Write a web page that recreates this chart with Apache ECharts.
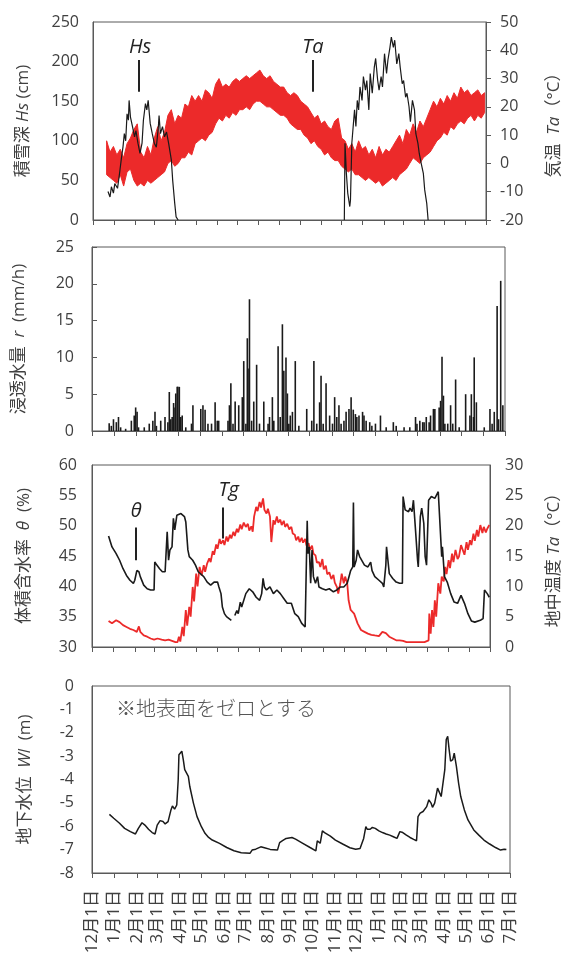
<!DOCTYPE html>
<html>
<head>
<meta charset="utf-8">
<script src="https://cdn.jsdelivr.net/npm/echarts@6/dist/echarts.min.js"></script>
<style>
  html, body { margin: 0; padding: 0; background: #fff; }
  #chart { width: 571px; height: 960px; }
</style>
</head>
<body>
<div id="chart"></div>
<script>
// x軸: 12月1日からの日数
const monthDays = [0, 31, 62, 90, 121, 151, 182, 212, 243, 274, 304, 335, 365, 396, 427, 455, 486, 516, 547, 577];
const monthLabels = ['12月1日', '1月1日', '2月1日', '3月1日', '4月1日', '5月1日', '6月1日', '7月1日', '8月1日', '9月1日',
  '10月1日', '11月1日', '12月1日', '1月1日', '2月1日', '3月1日', '4月1日', '5月1日', '6月1日', '7月1日'];

// 積雪深 Hs (cm) [日, 値]
const hsWinter1 = [[22,36],[25,29],[27,42],[30,34],[32,46],[36,40],[39,59],[42,80],[44,92],[46,109],[48,100],[50,134],[52,126],[53,151],[55,130],[58,118],[61,105],[63,113],[66,97],[69,84],[72,97],[74,126],[77,147],[79,139],[81,151],[84,122],[87,109],[90,97],[93,92],[96,118],[97,132],[99,109],[102,118],[105,105],[108,111],[111,97],[115,76],[117,50],[120,21],[122,4],[125,0]];
const hsWinter2 = [[369,0],[370,97],[372,59],[374,34],[377,17],[378,25],[380,97],[382,118],[384,139],[386,118],[388,151],[390,139],[392,168],[395,151],[397,181],[400,164],[402,176],[405,139],[407,185],[410,160],[413,193],[415,204],[418,176],[420,164],[423,181],[425,168],[428,210],[431,185],[433,202],[436,218],[438,231],[441,218],[443,227],[446,197],[449,210],[451,193],[454,172],[456,176],[459,155],[461,160],[464,143],[466,124],[469,151],[472,139],[474,109],[477,97],[479,84],[482,71],[485,59],[487,38],[490,21],[492,0]];

// 気温 Ta (°C) [日, 下限, 上限]
const taBand = [[20,-4,8],[25,-5,4],[30,-6,6],[35,-7,3],[40,-4,5],[45,-8,2],[50,-3,7],[55,-2,9],[60,-6,12],[65,-8,14],
  [70,-7,4],[75,-8,2],[80,-6,6],[85,-7,3],[90,-6,9],[95,-5,13],[100,-4,8],[105,-3,11],[110,0,17],[115,1,19],
  [120,-1,14],[125,0,17],[130,2,16],[135,2,21],[140,4,20],[145,3,24],[150,7,22],[155,8,24],[160,9,22],[165,8,26],
  [170,10,25],[175,11,23],[180,14,28],[185,16,30],[190,15,27],[195,17,28],[200,16,27],[205,18,29],[210,17,30],[215,19,29],
  [220,19,30],[225,20,31],[230,19,30],[235,21,31],[240,22,32],[245,22,33],[250,21,31],[255,20,30],[260,20,31],[265,19,29],
  [270,18,28],[275,17,27],[280,17,27],[285,16,25],[290,14,24],[295,13,25],[300,12,24],[305,12,22],[310,10,21],[315,9,20],
  [320,7,18],[325,8,16],[330,6,17],[335,5,14],[340,3,15],[345,4,13],[350,2,12],[355,1,15],[360,1,16],[365,-1,9],
  [370,-2,8],[375,-3,5],[380,-2,7],[385,-4,4],[390,-4,8],[395,-5,5],[400,-6,6],[405,-5,3],[410,-6,5],[415,-7,2],
  [420,-6,6],[425,-8,3],[430,-7,5],[435,-6,4],[440,-5,6],[445,-6,8],[450,-4,10],[455,-3,7],[460,-2,12],[465,0,10],
  [470,2,14],[475,1,11],[480,0,15],[485,2,13],[490,3,16],[495,4,19],[500,6,22],[505,8,20],[510,9,23],[515,11,21],
  [520,10,24],[525,13,22],[530,12,25],[535,14,23],[540,15,27],[545,14,25],[550,16,26],[555,17,24],[560,15,25],[565,17,26],
  [570,16,24],[575,18,25]];

// 浸透水量 r (mm/h) [日, 値]
const rain = [[24,1.05],[27,0.7],[30,1.6],[34,1.2],[37,1.9],[40,0.5],[47,0.3],[55,1.4],[59,2.1],[61,3.2],[63,2.6],[65,0.5],
  [73,0.5],[80,1.0],[85,1.4],[88,2.6],[90,0.7],[96,1.4],[102,1.9],[106,1.2],[108,5.3],[110,1.6],[112,1.9],[114,3.8],[116,3.2],
  [117,5.1],[119,6.0],[120,6.0],[122,6.0],[124,1.9],[126,2.1],[131,0.5],[139,1.0],[141,3.5],[152,3.0],[155,3.5],[158,2.9],
  [162,1.0],[167,1.0],[172,3.9],[175,1.4],[177,1.4],[190,1.4],[192,3.5],[194,6.5],[197,1.0],[200,4.0],[205,3.5],[210,4.6],
  [212,9.5],[215,1.0],[217,12.6],[218,8.5],[220,17.9],[223,1.4],[226,4.0],[230,9.0],[234,1.0],[240,4.0],[246,1.0],[248,1.9],
  [252,4.6],[254,1.4],[260,11.5],[263,1.9],[266,14.5],[268,8.2],[271,10.0],[273,5.1],[275,1.0],[277,2.1],[280,2.6],[284,9.5],
  [289,0.7],[300,3.0],[307,1.4],[310,9.5],[314,1.0],[318,3.9],[320,7.5],[323,1.0],[327,6.5],[332,2.1],[336,1.0],[339,4.6],
  [342,1.9],[345,3.5],[348,1.0],[352,1.4],[355,2.6],[359,3.0],[362,4.6],[365,2.9],[368,2.3],[370,1.9],[373,2.1],[378,2.6],
  [380,2.1],[383,1.4],[388,1.2],[391,0.7],[396,1.0],[403,2.1],[411,0.5],[421,1.2],[425,0.7],[436,0.5],[444,0.5],[452,1.9],
  [454,1.0],[458,1.4],[462,1.2],[464,1.2],[467,1.9],[471,1.2],[473,2.1],[477,3.0],[479,3.0],[485,3.2],[487,4.1],[489,10.1],
  [491,4.8],[493,1.0],[497,1.0],[501,3.5],[504,1.0],[508,7.0],[513,0.5],[522,5.0],[528,2.1],[530,5.0],[533,1.9],[534,10.0],
  [537,3.9],[548,0.5],[556,3.0],[559,1.0],[562,2.6],[566,17.0],[568,1.6],[571,20.4],[574,3.5]];

// 体積含水率 θ (%) [日, 値]
const theta = [[24,48.3],[29,46.5],[35,45.4],[40,44.3],[45,42.9],[50,41.8],[55,41.0],[60,40.5],[62,41.0],[65,42.6],[68,42.4],
  [70,41.6],[75,40.2],[80,39.6],[85,39.4],[90,39.4],[91,44.0],[94,43.5],[98,42.9],[102,42.4],[106,42.4],[108,42.6],[109,49.0],
  [111,44.3],[113,46.0],[116,46.5],[118,51.2],[120,49.3],[123,51.7],[129,52.0],[134,51.5],[136,50.6],[139,46.0],[141,44.9],
  [146,44.3],[150,43.5],[154,42.4],[156,42.1],[162,41.6],[167,40.7],[172,40.2],[177,40.7],[182,40.7],[184,39.9],[187,38.8],
  [189,36.6],[192,35.5],[195,35.0],[197,34.7],[202,34.4],[204,null],[207,35.2],[210,36.0],[212,35.5],[215,37.4],[217,36.6],
  [223,38.8],[228,39.6],[233,39.1],[238,38.2],[243,37.7],[246,38.8],[248,41.3],[250,39.9],[253,39.4],[258,39.9],[263,38.8],
  [268,39.4],[273,38.8],[278,38.0],[283,37.2],[289,37.2],[294,35.5],[299,35.0],[304,33.9],[309,33.3],[311,33.0],[312,50.8],
  [313,45.4],[315,46.5],[317,40.5],[319,46.0],[321,41.6],[324,40.5],[327,41.6],[329,39.9],[334,39.6],[339,39.4],[344,39.6],
  [350,39.1],[355,39.4],[360,39.9],[365,39.9],[370,40.5],[375,42.6],[378,43.2],[379,53.8],[380,43.2],[383,44.3],[385,46.0],
  [388,44.9],[390,44.9],[395,43.5],[400,43.2],[404,44.0],[406,42.6],[410,41.6],[416,41.0],[421,40.5],[423,39.9],[426,43.5],
  [427,46.5],[429,44.3],[431,42.1],[436,41.3],[441,40.7],[446,40.5],[450,40.5],[451,54.8],[454,52.6],[456,52.9],[459,52.3],
  [461,52.9],[464,52.3],[466,54.2],[469,49.3],[472,44.3],[473,43.2],[476,51.5],[478,52.9],[481,50.4],[483,44.9],[485,43.5],
  [488,54.2],[492,54.8],[497,54.5],[502,55.6],[504,55.9],[507,44.9],[508,46.5],[511,41.6],[515,40.7],[520,38.8],[525,37.4],
  [530,37.2],[535,38.5],[540,37.2],[545,35.5],[550,34.3],[555,34.1],[563,34.4],[567,34.7],[569,39.4],[573,38.8],[576,38.2]];

// 地中温度 Tg (°C) [日, 値]
const tg = [[24,4.3],[29,3.9],[35,4.4],[40,4.1],[45,3.6],[50,3.3],[55,3.0],[60,2.8],[65,2.5],[68,3.4],[70,2.5],[75,1.9],
  [80,1.7],[85,1.4],[90,1.2],[95,1.4],[101,1.2],[106,1.1],[111,1.2],[116,1.0],[121,0.8],[124,0.8],[126,1.7],[128,0.9],
  [131,3.3],[133,1.8],[136,6.1],[138,3.5],[141,6.6],[143,5.0],[146,9.9],[148,7.5],[151,12.1],[153,10.0],[156,13.2],
  [159,11.8],[162,13.5],[164,12.4],[167,13.8],[170,14.6],[172,14.0],[175,15.8],[177,15.2],[180,16.9],[182,16.2],[185,17.8],
  [187,17.0],[190,17.6],[192,16.8],[195,18.2],[197,17.4],[200,18.5],[202,17.9],[205,19.0],[207,18.3],[210,19.5],[212,18.9],
  [215,20.2],[217,19.4],[220,20.5],[223,19.8],[226,20.3],[228,19.2],[231,19.9],[233,19.0],[235,21.5],[238,23.1],[240,22.4],
  [243,23.9],[245,23.0],[248,24.5],[250,22.6],[253,22.0],[255,22.8],[258,21.5],[260,17.3],[263,20.9],[265,20.2],[268,21.5],
  [270,20.5],[273,21.0],[275,20.1],[278,20.8],[280,19.8],[283,20.3],[286,19.4],[289,19.8],[291,18.7],[294,18.5],[296,17.6],
  [299,18.2],[301,17.3],[304,18.0],[306,17.2],[309,17.8],[311,16.7],[314,17.1],[316,16.0],[319,16.7],[321,15.4],[324,15.1],
  [326,13.9],[329,14.0],[331,13.2],[334,14.5],[336,12.8],[339,13.4],[341,12.0],[344,12.3],[347,11.2],[350,11.9],[352,10.6],
  [355,9.9],[357,8.8],[360,10.5],[362,12.1],[365,10.5],[367,11.6],[370,10.5],[372,7.7],[375,6.1],[380,5.5],[385,3.9],
  [390,2.8],[395,2.5],[400,2.2],[405,2.0],[410,1.9],[416,1.8],[421,2.5],[426,2.3],[431,1.7],[436,1.4],[441,1.1],[446,1.1],
  [451,1.0],[456,0.8],[461,0.8],[466,0.8],[472,0.8],[477,0.8],[482,0.8],[488,1.1],[489,5.5],[491,2.2],[493,6.1],[495,3.3],
  [497,7.7],[499,5.0],[502,10.5],[505,8.8],[507,11.6],[510,10.8],[512,13.2],[514,12.0],[517,14.3],[519,13.0],[522,15.4],
  [524,14.0],[527,16.0],[530,14.5],[532,14.9],[535,16.8],[537,16.5],[540,15.2],[543,17.3],[545,16.0],[548,17.6],[550,16.8],
  [553,18.7],[555,17.5],[558,19.3],[560,18.2],[563,20.1],[566,18.8],[568,19.8],[571,18.9],[573,19.5],[576,20.1]];

// 地下水位 Wl (m) [日, 値]
const wl = [[24,-5.49],[30,-5.66],[38,-5.87],[45,-6.09],[53,-6.23],[60,-6.33],[64,-6.09],[69,-5.85],[73,-5.95],[78,-6.13],
  [83,-6.27],[87,-6.33],[90,-5.95],[94,-5.76],[98,-5.80],[101,-5.90],[105,-5.80],[109,-5.30],[111,-5.13],[114,-5.27],
  [117,-5.09],[119,-4.01],[120,-2.94],[122,-3.01],[124,-2.79],[126,-3.15],[128,-3.58],[130,-3.51],[133,-3.87],[135,-4.30],
  [140,-5.01],[145,-5.59],[151,-6.02],[156,-6.30],[161,-6.48],[166,-6.59],[176,-6.73],[186,-6.91],[196,-7.05],[206,-7.13],
  [218,-7.16],[221,-7.02],[226,-6.98],[233,-6.88],[238,-6.92],[246,-6.99],[256,-7.02],[259,-6.70],[263,-6.62],[268,-6.52],
  [276,-6.48],[281,-6.55],[291,-6.73],[301,-6.91],[309,-7.05],[311,-6.62],[315,-6.73],[318,-6.20],[321,-6.27],[329,-6.42],
  [336,-6.59],[346,-6.76],[356,-6.92],[364,-6.98],[370,-6.95],[375,-6.52],[378,-6.02],[380,-6.13],[384,-6.13],[387,-6.05],
  [391,-6.09],[396,-6.20],[401,-6.27],[406,-6.33],[411,-6.38],[416,-6.45],[421,-6.52],[425,-6.23],[429,-6.27],[434,-6.38],
  [439,-6.48],[444,-6.56],[448,-6.62],[450,-5.59],[453,-5.44],[457,-5.37],[462,-5.16],[465,-4.87],[468,-5.01],[470,-5.19],
  [473,-5.01],[477,-4.37],[479,-4.30],[482,-4.73],[484,-4.80],[487,-3.58],[489,-2.29],[491,-2.15],[493,-2.72],[495,-3.22],
  [498,-3.15],[500,-2.87],[503,-3.44],[506,-4.15],[509,-4.73],[514,-5.30],[519,-5.73],[527,-6.16],[534,-6.38],[541,-6.59],
  [549,-6.76],[557,-6.91],[564,-7.02],[569,-6.98],[572,-6.99]];

const AXIS = '#595959';
const LABEL = '#404040';
const RED = '#ec2a2a';
const BLACK = '#1a1a1a';
const FONT = "'Open Sans', 'Noto Sans CJK JP', sans-serif";

const chart = echarts.init(document.getElementById('chart'), null, { renderer: 'canvas' });

const makeX = (gridIndex, showLabel) => ({
  type: 'value', gridIndex, min: 0, max: 577,
  axisLine: { show: true, onZero: false, lineStyle: { color: AXIS } },
  axisTick: { show: true, length: 5, customValues: monthDays, lineStyle: { color: AXIS } },
  axisLabel: {
    show: showLabel, customValues: monthDays, rotate: 90, margin: 17,
    fontSize: 17, color: LABEL, fontFamily: FONT,
    formatter: (v) => monthLabels[monthDays.indexOf(v)] || ''
  },
  splitLine: { show: false }
});

const nameStyle = {
  fontSize: 17, color: LABEL, fontFamily: FONT,
  rich: {
    c: { fontSize: 17, color: LABEL, fontFamily: FONT },
    i: { fontSize: 17, color: LABEL, fontFamily: FONT, fontStyle: 'italic' }
  }
};

const makeY = (o) => ({
  type: 'value',
  nameLocation: 'middle', nameRotate: 90, nameTextStyle: nameStyle,
  axisLine: { show: true, lineStyle: { color: AXIS } },
  axisTick: { show: o.tick !== false, inside: !!o.tickInside, length: 5, lineStyle: { color: AXIS } },
  axisLabel: { fontSize: 16, color: LABEL, fontFamily: FONT, margin: o.margin },
  splitLine: { show: false },
  ...o.axis
});

const annoLabel = { show: true, position: 'inside', fontSize: 20, fontStyle: 'italic', color: '#222', fontFamily: FONT, formatter: (p) => p.name };
const annoLine = { symbol: ['none', 'none'], silent: true, label: { show: false }, lineStyle: { color: '#222', width: 2, type: 'solid' } };

// 気温の帯: 下限を左から、上限を右から辿って一つの多角形にする
const renderBand = (params, api) => {
  if (params.dataIndex !== 0) return null;
  const lower = taBand.map((d) => api.coord([d[0], d[1]]));
  const upper = taBand.map((d) => api.coord([d[0], d[2]])).reverse();
  return {
    type: 'polygon',
    shape: { points: lower.concat(upper) },
    style: { fill: RED, stroke: RED, lineWidth: 1 }
  };
};

const option = {
  animation: false,
  backgroundColor: '#fff',
  grid: [
    { left: 93, right: 69, top: 22, height: 198, show: true, borderColor: AXIS, borderWidth: 1 },
    { left: 92, right: 66, top: 247, height: 184, show: true, borderColor: AXIS, borderWidth: 1 },
    { left: 92, right: 66, top: 465, height: 182, show: true, borderColor: AXIS, borderWidth: 1 },
    { left: 92, right: 61, top: 686, height: 187, show: true, borderColor: AXIS, borderWidth: 1 }
  ],
  xAxis: [makeX(0, false), makeX(1, false), makeX(2, false), makeX(3, true)],
  yAxis: [
    makeY({ tick: false, margin: 14, axis: { gridIndex: 0, position: 'left', min: 0, max: 250, interval: 50, nameGap: 61, name: '{c|積雪深 }{i|Hs}{c| (cm)}' } }),
    makeY({ margin: 14, axis: { gridIndex: 0, position: 'right', min: -20, max: 50, interval: 10, nameGap: 60, name: '{c|気温  }{i|Ta}{c|（°C）}' } }),
    makeY({ tickInside: true, margin: 18, axis: { gridIndex: 1, position: 'left', min: 0, max: 25, interval: 5, nameGap: 64, name: '{c|浸透水量  }{i|r}{c|  (mm/h)}' } }),
    makeY({ tick: false, margin: 15, axis: { gridIndex: 2, position: 'left', min: 30, max: 60, interval: 5, nameGap: 59, name: '{c|体積含水率  }{i|θ}{c|  (%)}' } }),
    makeY({ tick: false, margin: 15, axis: { gridIndex: 2, position: 'right', min: 0, max: 30, interval: 5, nameGap: 56, name: '{c|地中温度 }{i|Ta}{c|（°C）}' } }),
    makeY({ tick: false, margin: 18, axis: { gridIndex: 3, position: 'left', min: -8, max: 0, interval: 1, nameGap: 58, name: '{c|地下水位  }{i|Wl}{c|  (m)}' } })
  ],
  graphic: [
    { type: 'text', left: 116, top: 698, silent: true,
      style: { text: '※地表面をゼロとする', fontSize: 20, fill: '#555', fontFamily: "'Noto Sans CJK JP'", fontWeight: 300 } }
  ],
  series: [
    { type: 'custom', xAxisIndex: 0, yAxisIndex: 1, silent: true, z: 2, clip: true,
      renderItem: renderBand, data: taBand },
    { type: 'line', xAxisIndex: 0, yAxisIndex: 0, symbol: 'none', silent: true, z: 4,
      lineStyle: { width: 1.2, color: BLACK }, data: hsWinter1,
      markLine: { ...annoLine, data: [[{ coord: [67, 162] }, { coord: [67, 202] }], [{ coord: [322, 162] }, { coord: [322, 202] }]] },
      markPoint: { symbol: 'circle', symbolSize: 0, silent: true, label: annoLabel,
        data: [{ name: 'Hs', coord: [69, 218] }, { name: 'Ta', coord: [323, 218] }] } },
    { type: 'line', xAxisIndex: 0, yAxisIndex: 0, symbol: 'none', silent: true, z: 4,
      lineStyle: { width: 1.2, color: BLACK }, data: hsWinter2 },

    // 浸透水量
    { type: 'bar', xAxisIndex: 1, yAxisIndex: 2, barWidth: 1.6, silent: true,
      itemStyle: { color: BLACK }, data: rain },

    // 体積含水率・地中温度
    { type: 'line', xAxisIndex: 2, yAxisIndex: 4, symbol: 'none', silent: true, z: 2,
      lineStyle: { width: 1.8, color: RED }, data: tg },
    { type: 'line', xAxisIndex: 2, yAxisIndex: 3, symbol: 'none', silent: true, z: 3, connectNulls: false,
      lineStyle: { width: 1.6, color: BLACK }, data: theta,
      markLine: { ...annoLine, data: [[{ coord: [64, 44.3] }, { coord: [64, 49.7] }], [{ coord: [189, 47.9] }, { coord: [189, 53.0] }]] },
      markPoint: { symbol: 'circle', symbolSize: 0, silent: true, label: annoLabel,
        data: [{ name: 'θ', coord: [64, 52.4] }, { name: 'Tg', coord: [198, 55.8] }] } },

    // 地下水位
    { type: 'line', xAxisIndex: 3, yAxisIndex: 5, symbol: 'none', silent: true,
      lineStyle: { width: 1.5, color: BLACK }, data: wl }
  ]
};

chart.setOption(option);
</script>
</body>
</html>
